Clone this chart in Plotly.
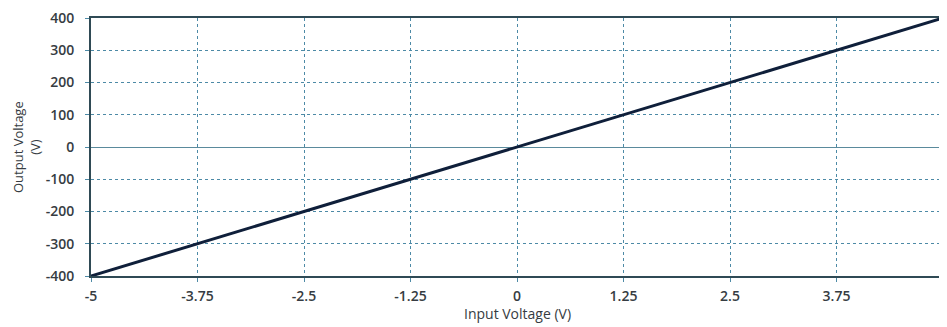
import plotly.graph_objects as go

input_voltage = [-5, -3.75, -2.5, -1.25, 0, 1.25, 2.5, 3.75, 5]
output_voltage = [-400, -300, -200, -100, 0, 100, 200, 300, 400]
x_ticks = [-5, -3.75, -2.5, -1.25, 0, 1.25, 2.5, 3.75, 5]
x_tick_labels = ["-5", "-3.75", "-2.5", "-1.25", "0", "1.25", "2.5", "3.75", "5"]
y_ticks = [-400, -300, -200, -100, 0, 100, 200, 300, 400]
y_tick_labels = ["-400", "-300", "-200", "-100", "0", "100", "200", "300", "400"]

axis_col = "#2f4a55"
grid_col = "#4d8aa6"
font_col = "#363c42"

fig = go.Figure()
fig.add_trace(go.Scatter(x=input_voltage, y=output_voltage, mode="lines",
                         line=dict(color="#0f1f3a", width=3), showlegend=False,
                         cliponaxis=False))

fig.update_layout(
    width=939, height=319,
    margin=dict(l=83, r=0, t=5, b=51),
    paper_bgcolor="white", plot_bgcolor="white",
    font=dict(family="Open Sans, Lato, sans-serif", size=13, color=font_col),
    annotations=[
        dict(text="Output Voltage<br>(V)", xref="paper", yref="paper", x=0, y=0.5,
             xanchor="center", yanchor="middle", xshift=-65, textangle=-90,
             showarrow=False, font=dict(size=13, color=font_col)),
        dict(text="Input Voltage (V)", xref="paper", yref="paper", x=0.5, y=0,
             xanchor="center", yanchor="middle", yshift=-37,
             showarrow=False, font=dict(size=14, color=font_col)),
    ],
)
fig.update_xaxes(
    range=[-5, 5], tickvals=x_ticks, ticktext=x_tick_labels,
    showgrid=True, gridcolor=grid_col, griddash="dot", gridwidth=1,
    showline=True, linecolor=axis_col, linewidth=2, mirror=True,
    ticks="outside", ticklen=4, tickcolor=grid_col,
    zeroline=False,
    tickfont=dict(size=14, weight=600),
    ticklabelstandoff=2, ticklabeloverflow="allow",
)
fig.update_yaxes(
    range=[-400, 400], tickvals=y_ticks, ticktext=y_tick_labels,
    showgrid=True, gridcolor=grid_col, griddash="dot", gridwidth=1,
    showline=True, linecolor=axis_col, linewidth=2,
    ticks="outside", ticklen=4, tickcolor=grid_col,
    zeroline=True, zerolinecolor="#5a8a9c", zerolinewidth=1,
    tickfont=dict(size=14, weight=600),
    ticklabelstandoff=8, ticklabeloverflow="allow",
)
fig.write_html("out.html")
